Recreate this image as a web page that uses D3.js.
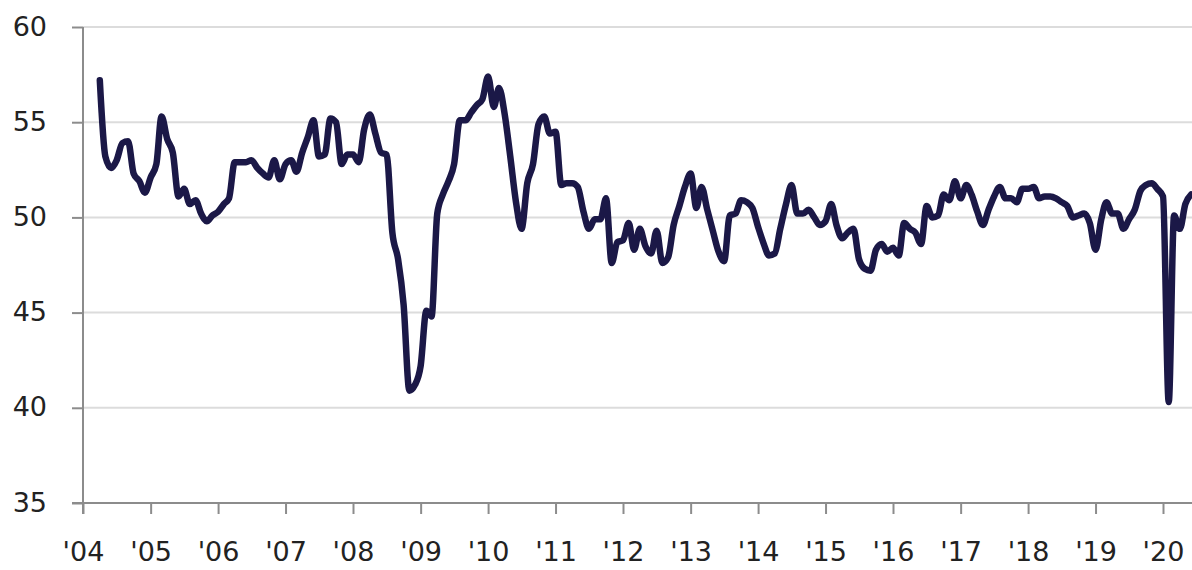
<!DOCTYPE html>
<html lang="en">
<head>
    <meta charset="UTF-8">
    <title>Manufacturing PMI</title>
    <script src="https://d3js.org/d3.v7.min.js"></script>
    <style>
        body { margin: 0; background: #fff; }
        svg text { font-family: "DejaVu Sans", sans-serif; fill: #222; }
        .axis path, .axis line { stroke: #8c8c8c; stroke-width: 2; }
        .grid line { stroke: #dcdcdc; stroke-width: 2; }
    </style>
</head>
<body>
    <svg width="1192" height="570"></svg>

    <script>
        // monthly readings, first one is April 2004
        const firstYear = 2004, firstMonth = 3;
        const pmiValues = [
            57.2, 53.2, 52.6, 53.0, 53.9, 54.0, 52.3, 51.9, 51.3,               // 2004
            52.1, 52.8, 55.3, 54.1, 53.4, 51.1, 51.5, 50.7, 50.9, 50.2, 49.8, 50.1, // 2005
            50.3, 50.7, 51.0, 52.9, 52.9, 52.9, 53.0, 52.6, 52.3, 52.1, 53.0, 52.0, // 2006
            52.8, 53.0, 52.4, 53.4, 54.2, 55.1, 53.2, 53.3, 55.2, 55.0, 52.8, 53.3, // 2007
            53.3, 52.9, 54.6, 55.4, 54.4, 53.4, 53.3, 49.2, 47.8, 45.4, 40.9, 41.2, // 2008
            42.2, 45.1, 44.8, 50.2, 51.2, 51.9, 52.8, 55.1, 55.1, 55.5, 55.9, 56.2, // 2009
            57.4, 55.8, 56.8, 55.4, 53.2, 50.8, 49.4, 51.8, 52.8, 54.9, 55.3, 54.4, // 2010
            54.5, 51.7, 51.8, 51.8, 51.6, 50.3, 49.4, 49.9, 49.9, 51.0, 47.6, 48.7, // 2011
            48.8, 49.7, 48.3, 49.4, 48.5, 48.1, 49.3, 47.6, 47.9, 49.6, 50.6, 51.6, // 2012
            52.3, 50.5, 51.6, 50.4, 49.3, 48.2, 47.7, 50.1, 50.2, 50.9, 50.8, 50.5, // 2013
            49.5, 48.6, 48.0, 48.1, 49.4, 50.7, 51.7, 50.2, 50.2, 50.4, 50.0, 49.6, // 2014
            49.8, 50.7, 49.6, 48.9, 49.2, 49.4, 47.8, 47.3, 47.2, 48.3, 48.6, 48.2, // 2015
            48.4, 48.0, 49.7, 49.4, 49.2, 48.6, 50.6, 50.0, 50.1, 51.2, 50.9, 51.9, // 2016
            51.0, 51.7, 51.2, 50.3, 49.6, 50.4, 51.1, 51.6, 51.0, 51.0, 50.8, 51.5, // 2017
            51.5, 51.6, 51.0, 51.1, 51.1, 51.0, 50.8, 50.6, 50.0, 50.1, 50.2, 49.7, // 2018
            48.3, 49.9, 50.8, 50.2, 50.2, 49.4, 49.9, 50.4, 51.4, 51.7, 51.8, 51.5, // 2019
            51.1, 40.3, 50.1, 49.4, 50.7, 51.2                                   // 2020
        ];
        const yearTicks = d3.range(2004, 2021);
        const valueTicks = [35, 40, 45, 50, 55, 60];

        const months = pmiValues.map((v, i) => new Date(firstYear, firstMonth + i, 1));

        const width = 1192, height = 570;
        const plotLeft = 83, plotRight = 1192, plotTop = 27, plotBottom = 503;
        const svg = d3.select("svg");

        const x = d3.scaleTime()
            .domain([new Date(2004, 0, 1), new Date(2020, 0, 1)])
            .range([plotLeft, 1163]);
        const y = d3.scaleLinear().domain([35, 60]).range([plotBottom, plotTop]);

        // gridlines
        svg.append("g").attr("class", "grid")
            .selectAll("line")
            .data(valueTicks.slice(1))
            .enter().append("line")
            .attr("x1", plotLeft).attr("x2", plotRight)
            .attr("y1", d => y(d)).attr("y2", d => y(d));

        // y axis
        const yAxis = svg.append("g").attr("class", "axis")
            .attr("transform", `translate(${plotLeft},0)`)
            .call(d3.axisLeft(y).tickValues(valueTicks).tickSize(11).tickPadding(25).tickSizeOuter(0));
        yAxis.select(".domain").remove();
        yAxis.append("line").attr("x1", 0).attr("x2", 0).attr("y1", plotTop).attr("y2", plotBottom + 11);
        yAxis.selectAll("text").style("font-size", "27px").attr("dy", "0.3em");

        // x axis
        const xAxis = svg.append("g").attr("class", "axis")
            .attr("transform", `translate(0,${plotBottom})`)
            .call(d3.axisBottom(x)
                .tickValues(yearTicks.map(yr => new Date(yr, 0, 1)))
                .tickFormat(d3.timeFormat("'%y"))
                .tickSize(11).tickSizeOuter(0).tickPadding(28));
        xAxis.select(".domain").remove();
        xAxis.append("line").attr("x1", plotLeft - 11).attr("x2", plotRight).attr("y1", 0).attr("y2", 0);
        xAxis.selectAll("text").style("font-size", "27px");

        const line = d3.line()
            .x((d, i) => x(months[i]))
            .y(d => y(d))
            .curve(d3.curveMonotoneX);

        svg.append("path")
            .datum(pmiValues)
            .attr("d", line)
            .attr("fill", "none")
            .attr("stroke", "#1b1847")
            .attr("stroke-width", 6.5)
            .attr("stroke-linejoin", "round")
            .attr("stroke-linecap", "round");
    </script>
</body>
</html>
